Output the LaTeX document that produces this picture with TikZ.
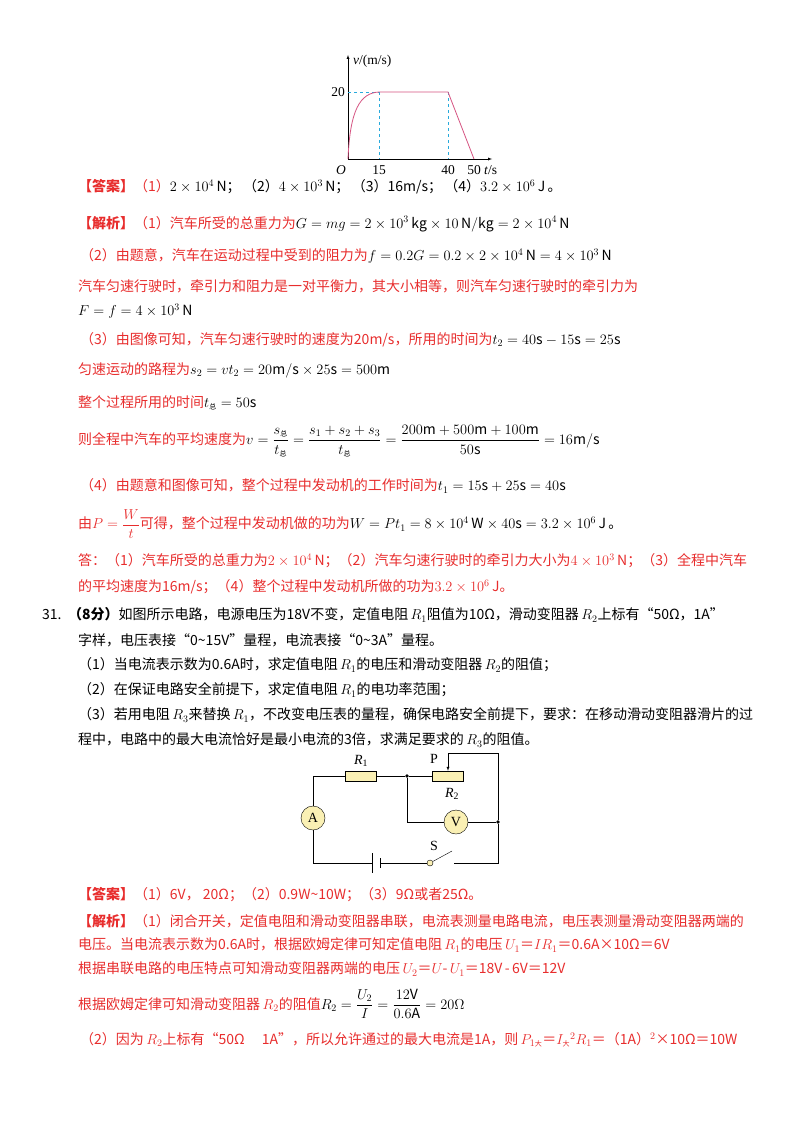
\documentclass[tikz,border=0pt]{standalone}
\usepackage{amsmath}
\usepackage{fontspec}
\setmainfont{Noto Sans CJK SC}
\newfontfamily\lat{Liberation Serif}
\definecolor{rd}{RGB}{232,45,45}
\definecolor{pk}{RGB}{214,84,130}
\definecolor{cy}{RGB}{40,170,220}
\definecolor{yl}{RGB}{250,240,180}
\begin{document}
\begin{tikzpicture}[x=1pt,y=-1pt,
 t/.style={anchor=west,inner sep=0,font=\fontsize{14}{16}\selectfont},
 r/.style={t,text=rd},
 gl/.style={inner sep=0,font=\lat\fontsize{13.5}{13.5}\selectfont},
 dot/.style={circle,fill,inner sep=1.3pt},
 meter/.style={circle,draw,fill=yl,minimum size=24pt,inner sep=0,font=\lat\fontsize{14}{14}\selectfont},
 res/.style={draw,fill=yl,minimum width=31pt,minimum height=10pt,inner sep=0}]
\useasboundingbox[fill=white] (0,0) rectangle (800,1132);
% graph
\coordinate (o) at (348,159);
\draw[-latex] (o) -- (348,55) coordinate (ya);
\draw[-latex] (o) -- (492,159) coordinate (xa);
\node[gl,anchor=west] (yl) at (353,61) {\textit{v}/(m/s)};
\node[gl,anchor=east] (l20) at (345,92) {20};
\node[gl,font=\lat\itshape\fontsize{13.5}{13.5}\selectfont] (lo) at (341,170) {O};
\node[gl] (l15) at (379,170) {15};
\node[gl] (l40) at (448,170) {40};
\node[gl] (l50) at (474,170) {50};
\node[gl,anchor=west] (lt) at (484,170) {\textit{t}/s};
\draw[cy,dashed] (348,92) -- (379,92) (379,92) -- (379,159) (448,92) -- (448,159);
\draw[pk,thick] (o) .. controls (350,110) and (360,93) .. (379,92) -- (448,92) -- (474,159);
% text block 1
\node[r] (a1) at (78,187) {\textbf{【答案】}（1）\textcolor{black}{$2\times10^4$\,N；\,（2）$4\times10^3$\,N；\,（3）16m/s；\,（4）$3.2\times10^6$\,J\,。}};
\node[r] (a2) at (78,224) {\textbf{【解析】}（1）汽车所受的总重力为\textcolor{black}{$G=mg=2\times10^3\,\mathrm{kg}\times10\,\mathrm{N/kg}=2\times10^4\,\mathrm{N}$}};
\node[r] (a3) at (80,256) {（2）由题意，汽车在运动过程中受到的阻力为\textcolor{black}{$f=0.2G=0.2\times2\times10^4\,\mathrm{N}=4\times10^3\,\mathrm{N}$}};
\node[r] (a4) at (78,286) {汽车匀速行驶时，牵引力和阻力是一对平衡力，其大小相等，则汽车匀速行驶时的牵引力为};
\node[t] (a5) at (78,311) {$F=f=4\times10^3\,\mathrm{N}$};
\node[r] (a6) at (80,340) {（3）由图像可知，汽车匀速行驶时的速度为20m/s，所用的时间为\textcolor{black}{$t_2=40\mathrm{s}-15\mathrm{s}=25\mathrm{s}$}};
\node[r] (a7) at (78,370) {匀速运动的路程为\textcolor{black}{$s_2=vt_2=20\mathrm{m/s}\times25\mathrm{s}=500\mathrm{m}$}};
\node[r] (a8) at (78,403) {整个过程所用的时间\textcolor{black}{$t_{\text{\scriptsize 总}}=50\mathrm{s}$}};
\node[r] (a9) at (78,441) {则全程中汽车的平均速度为\textcolor{black}{$v=\dfrac{s_{\text{\scriptsize 总}}}{t_{\text{\scriptsize 总}}}=\dfrac{s_1+s_2+s_3}{t_{\text{\scriptsize 总}}}=\dfrac{200\mathrm{m}+500\mathrm{m}+100\mathrm{m}}{50\mathrm{s}}=16\mathrm{m/s}$}};
\node[r] (a10) at (80,486) {（4）由题意和图像可知，整个过程中发动机的工作时间为\textcolor{black}{$t_1=15\mathrm{s}+25\mathrm{s}=40\mathrm{s}$}};
\node[r] (a11) at (78,524) {由$P=\dfrac{W}{t}$可得，整个过程中发动机做的功为\textcolor{black}{$W=Pt_1=8\times10^4\,\mathrm{W}\times40\mathrm{s}=3.2\times10^6\,\mathrm{J}$\,。}};
\node[r] (a12) at (78,561) {答：（1）汽车所受的总重力为$2\times10^4\,$N；（2）汽车匀速行驶时的牵引力大小为$4\times10^3\,$N；（3）全程中汽车};
\node[r] (a13) at (78,587) {的平均速度为16m/s；（4）整个过程中发动机所做的功为$3.2\times10^6\,$J。};
% question 31
\node[t] (q1) at (42,615) {31.\, \textbf{（8分）}如图所示电路，电源电压为18V不变，定值电阻\,$R_1$阻值为10Ω，滑动变阻器\,$R_2$上标有“50Ω，1A”};
\node[t] (q2) at (78,640) {字样，电压表接“0\textasciitilde15V”量程，电流表接“0\textasciitilde3A”量程。};
\node[t] (q3) at (78,665) {（1）当电流表示数为0.6A时，求定值电阻\,$R_1$的电压和滑动变阻器\,$R_2$的阻值；};
\node[t] (q4) at (78,690) {（2）在保证电路安全前提下，求定值电阻\,$R_1$的电功率范围；};
\node[t] (q5) at (78,715) {（3）若用电阻\,$R_3$来替换\,$R_1$，不改变电压表的量程，确保电路安全前提下，要求：在移动滑动变阻器滑片的过};
\node[t] (q6) at (78,740) {程中，电路中的最大电流恰好是最小电流的3倍，求满足要求的\,$R_3$的阻值。};
% circuit
\node[res] (r1) at (361,776) {};
\node[res] (r2) at (448,776) {};
\node[dot] (j1) at (407,776) {};
\node[dot] (j2) at (498,822) {};
\node[meter] (am) at (313,818) {A};
\node[meter] (vm) at (456,822) {V};
\coordinate (tl) at (313,776); \coordinate (bl) at (313,863);
\coordinate (br) at (498,863); \coordinate (tr) at (498,753);
\coordinate (pt) at (448,753); \coordinate (jv) at (407,822);
\coordinate (b1) at (372,863); \coordinate (b2) at (380,863);
\node[circle,draw,fill=yl,inner sep=0,minimum size=6pt] (sw) at (430,863) {};
\coordinate (swe) at (452,851); \coordinate (swr) at (454,863);
\draw (am) -- (tl) -- (r1) -- (j1) -- (r2);
\draw (am) -- (bl) -- (b1);
\draw[thick] (372,853) -- (372,873);
\draw[thick] (380,858) -- (380,868);
\draw (b2) -- (sw);
\draw (sw) -- (swe);
\draw (swr) -- (br) -- (j2) -- (tr) -- (pt);
\draw[-latex] (pt) -- (r2.north);
\draw (j1) -- (jv) -- (vm) -- (j2);
\node[inner sep=0,font=\lat\itshape\fontsize{14}{14}\selectfont] (lr1) at (361,761) {R\textsubscript{\upshape 1}};
\node[inner sep=0,font=\lat\fontsize{14}{14}\selectfont] (lp) at (434,759) {P};
\node[inner sep=0,font=\lat\itshape\fontsize{14}{14}\selectfont] (lr2) at (452,794) {R\textsubscript{\upshape 2}};
\node[inner sep=0,font=\lat\fontsize{14}{14}\selectfont] (ls) at (434,846) {S};
% answer 31
\node[r] (b1t) at (78,895) {\textbf{【答案】}（1）6V，\ 20Ω；（2）0.9W\textasciitilde10W；（3）9Ω或者25Ω。};
\node[r] (b2t) at (78,921) {\textbf{【解析】}（1）闭合开关，定值电阻和滑动变阻器串联，电流表测量电路电流，电压表测量滑动变阻器两端的};
\node[r] (b3t) at (78,945) {电压。当电流表示数为0.6A时，根据欧姆定律可知定值电阻\,$R_1$的电压\,$U_1$＝$IR_1$＝0.6A×10Ω＝6V};
\node[r] (b4t) at (78,969) {根据串联电路的电压特点可知滑动变阻器两端的电压\,$U_2$＝$U$-\,$U_1$＝18V\,-\,6V＝12V};
\node[r] (b5t) at (78,1004) {根据欧姆定律可知滑动变阻器\,$R_2$的阻值\textcolor{black}{$R_2=\dfrac{U_2}{I}=\dfrac{12\mathrm{V}}{0.6\mathrm{A}}=20\Omega$}};
\node[r] (b6t) at (80,1040) {（2）因为\,$R_2$上标有“50Ω\quad\ 1A”，所以允许通过的最大电流是1A，则\,$P_{1\text{\scriptsize 大}}$＝$I_{\text{\scriptsize 大}}{}^2R_1$＝（1A）$^2$×10Ω＝10W};
\end{tikzpicture}
\end{document}
